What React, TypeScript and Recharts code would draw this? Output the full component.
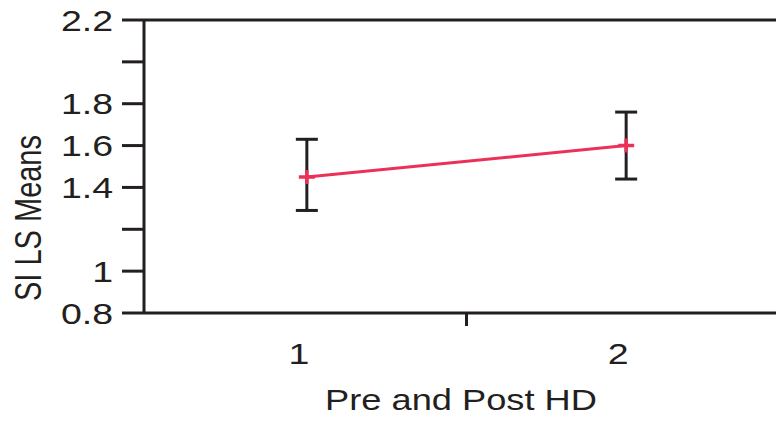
import React from 'react';
import { ComposedChart, Line, XAxis, YAxis, ErrorBar, ReferenceLine } from 'recharts';

// LS means with confidence limits, pre and post HD
const groups = [1, 2];
const means = [1.45, 1.6];
const lowerCI = [1.29, 1.44];
const upperCI = [1.63, 1.76];

const yTicks = [0.8, 1, 1.2, 1.4, 1.6, 1.8, 2.0, 2.2];
const yTickLabels = ['0.8', '1', '', '1.4', '1.6', '1.8', '', '2.2'];
const xTicks = [1, 1.5, 2];
const xTickLabels = ['1', '', '2'];

const FONT = '"Liberation Sans", Arial, sans-serif';
const INK = '#231f20';
const RED = '#ec3158';
const STRETCH = 1.25; // wide text as in the original export

const data = groups.map((g, i) => ({
  group: g,
  mean: means[i],
  ci: [means[i] - lowerCI[i], upperCI[i] - means[i]],
}));

function YTick({ x, y, payload }: any) {
  const i = yTicks.indexOf(payload.value);
  const label = i >= 0 ? yTickLabels[i] : '';
  if (!label) return null;
  return (
    <text
      transform={`translate(${x},${y}) scale(${STRETCH},1)`}
      textAnchor="end"
      dominantBaseline="central"
      fontFamily={FONT}
      fontSize={30}
      fill={INK}
    >
      {label}
    </text>
  );
}

function XTick({ x, y, payload }: any) {
  const i = xTicks.indexOf(payload.value);
  const label = i >= 0 ? xTickLabels[i] : '';
  if (!label) {
    // unlabeled midpoint tick
    return <line x1={x} y1={y} x2={x} y2={y + 13} stroke={INK} strokeWidth={3} />;
  }
  return (
    <text
      transform={`translate(${x - 8},${y + 40}) scale(${STRETCH},1)`}
      textAnchor="middle"
      dominantBaseline="central"
      fontFamily={FONT}
      fontSize={30}
      fill={INK}
    >
      {label}
    </text>
  );
}

function PlusDot({ cx, cy }: any) {
  if (cx == null || cy == null) return null;
  return (
    <path
      d={`M${cx - 8},${cy}H${cx + 8}M${cx},${cy - 7}V${cy + 7}`}
      stroke={RED}
      strokeWidth={3.5}
      fill="none"
    />
  );
}

export default function App() {
  return (
    <div style={{ position: 'absolute', left: 0, top: 0, width: 776, height: 424, overflow: 'hidden', background: '#fff' }}>
      <ComposedChart
        width={800}
        height={424}
        data={data}
        margin={{ top: 20, right: 11, bottom: 81, left: 104 }}
      >
        <XAxis
          dataKey="group"
          type="number"
          domain={[0.49, 2.51]}
          ticks={xTicks}
          interval={0}
          tickLine={false}
          tickSize={0}
          tickMargin={0}
          height={30}
          axisLine={{ stroke: INK, strokeWidth: 3 }}
          tick={<XTick />}
          label={{
            content: () => (
              <text
                transform={`translate(461,400) scale(${STRETCH},1)`}
                textAnchor="middle"
                dominantBaseline="central"
                fontFamily={FONT}
                fontSize={29}
                fill={INK}
              >
                Pre and Post HD
              </text>
            ),
          }}
        />
        <YAxis
          type="number"
          domain={[0.8, 2.2]}
          ticks={yTicks}
          interval={0}
          width={40}
          tickSize={22}
          tickMargin={9}
          tickLine={{ stroke: INK, strokeWidth: 3 }}
          axisLine={{ stroke: INK, strokeWidth: 3 }}
          tick={<YTick />}
          label={{
            content: () => (
              <text
                transform={`translate(28,218) scale(${STRETCH},1) rotate(-90)`}
                textAnchor="middle"
                dominantBaseline="central"
                fontFamily={FONT}
                fontSize={29}
                fill={INK}
              >
                SI LS Means
              </text>
            ),
          }}
        />
        <ReferenceLine y={2.2} stroke={INK} strokeWidth={3} />
        <Line
          dataKey="mean"
          stroke={RED}
          strokeWidth={3}
          dot={<PlusDot />}
          activeDot={false}
          isAnimationActive={false}
        >
          <ErrorBar dataKey="ci" direction="y" width={11} stroke={INK} strokeWidth={3} isAnimationActive={false} />
        </Line>
      </ComposedChart>
    </div>
  );
}
